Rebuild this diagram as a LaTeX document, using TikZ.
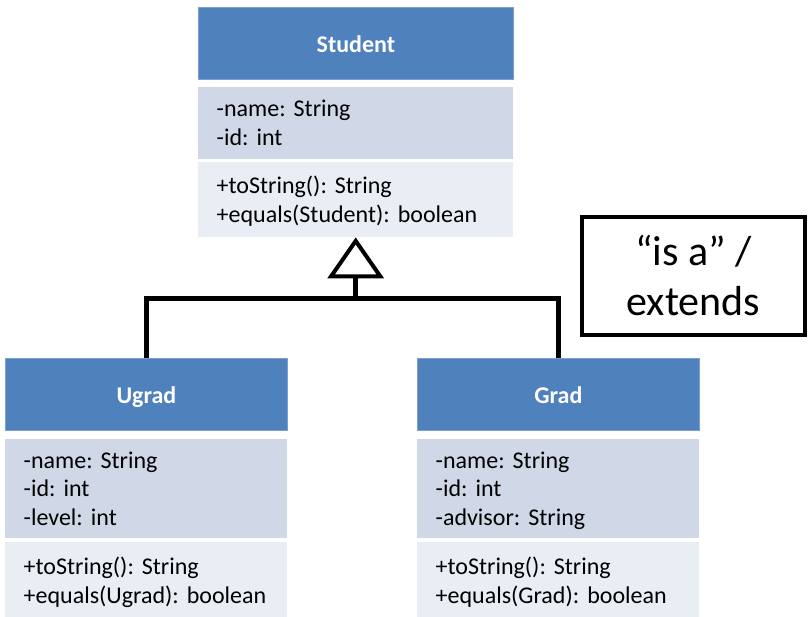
\documentclass[tikz,border=0pt]{standalone}
\usepackage{fontspec}
\setmainfont{Carlito}
\frenchspacing
\usetikzlibrary{arrows.meta}

\definecolor{headblue}{HTML}{4F81BD}
\definecolor{headedge}{HTML}{7A9FD0}
\definecolor{attrfill}{HTML}{D0D8E8}
\definecolor{opsfill}{HTML}{E9EDF4}

\begin{document}
\begin{tikzpicture}[
  x=1pt, y=-1pt,
  head/.style={rectangle, anchor=north west, fill=headblue, draw=headedge, line width=0.8pt, text=white, font=\fontsize{24}{28}\selectfont\bfseries, text height=20pt, text depth=2pt, minimum height=72pt},
  attr/.style={rectangle, anchor=north west, fill=attrfill, align=left, inner xsep=18.5pt, font=\fontsize{24}{28.8}\selectfont, execute at begin node=\rule{0pt}{25pt}, execute at end node=\strut},
  ops/.style={attr, fill=opsfill},
  note/.style={rectangle, draw=black, line width=4pt, align=center, font=\fontsize{42}{50}\selectfont, minimum width=223pt, minimum height=118pt},
  link/.style={draw=black, line width=5pt},
  isa/.style={link, -{Triangle[open, length=41pt, width=56pt, line width=4pt]}},
]
\useasboundingbox (0,0) rectangle (808,616);

% Student
\node[head, minimum width=315pt] (studentHead) at (198,7) {Student};
\node[attr, minimum height=72pt, text width=278pt] (studentAttr) at (198,87) {-name: String\\-id: int};
\node[ops, minimum height=75pt, text width=278pt] (studentOps) at (198,162) {+toString(): String\\+equals(Student): boolean};

% Ugrad
\node[head, minimum width=282pt] (ugradHead) at (5,358) {Ugrad};
\node[attr, minimum height=99pt, text width=245pt] (ugradAttr) at (5,439) {-name: String\\-id: int\\-level: int};
\node[ops, minimum height=78pt, text width=245pt] (ugradOps) at (5,542) {+toString(): String\\+equals(Ugrad): boolean};

% Grad
\node[head, minimum width=282pt] (gradHead) at (417,358) {Grad};
\node[attr, minimum height=99pt, text width=245pt] (gradAttr) at (417,439) {-name: String\\-id: int\\-advisor: String};
\node[ops, minimum height=78pt, text width=245pt] (gradOps) at (417,542) {+toString(): String\\+equals(Grad): boolean};

\node[note] (isaNote) at (693.5,276) {“is a” /\\extends};

% inheritance
\coordinate (join) at (studentOps.south |- 0,298);
\draw[link] (ugradHead.north) |- (join) -| (gradHead.north);
\draw[isa] (join) -- (studentOps.south);
\end{tikzpicture}
\end{document}
